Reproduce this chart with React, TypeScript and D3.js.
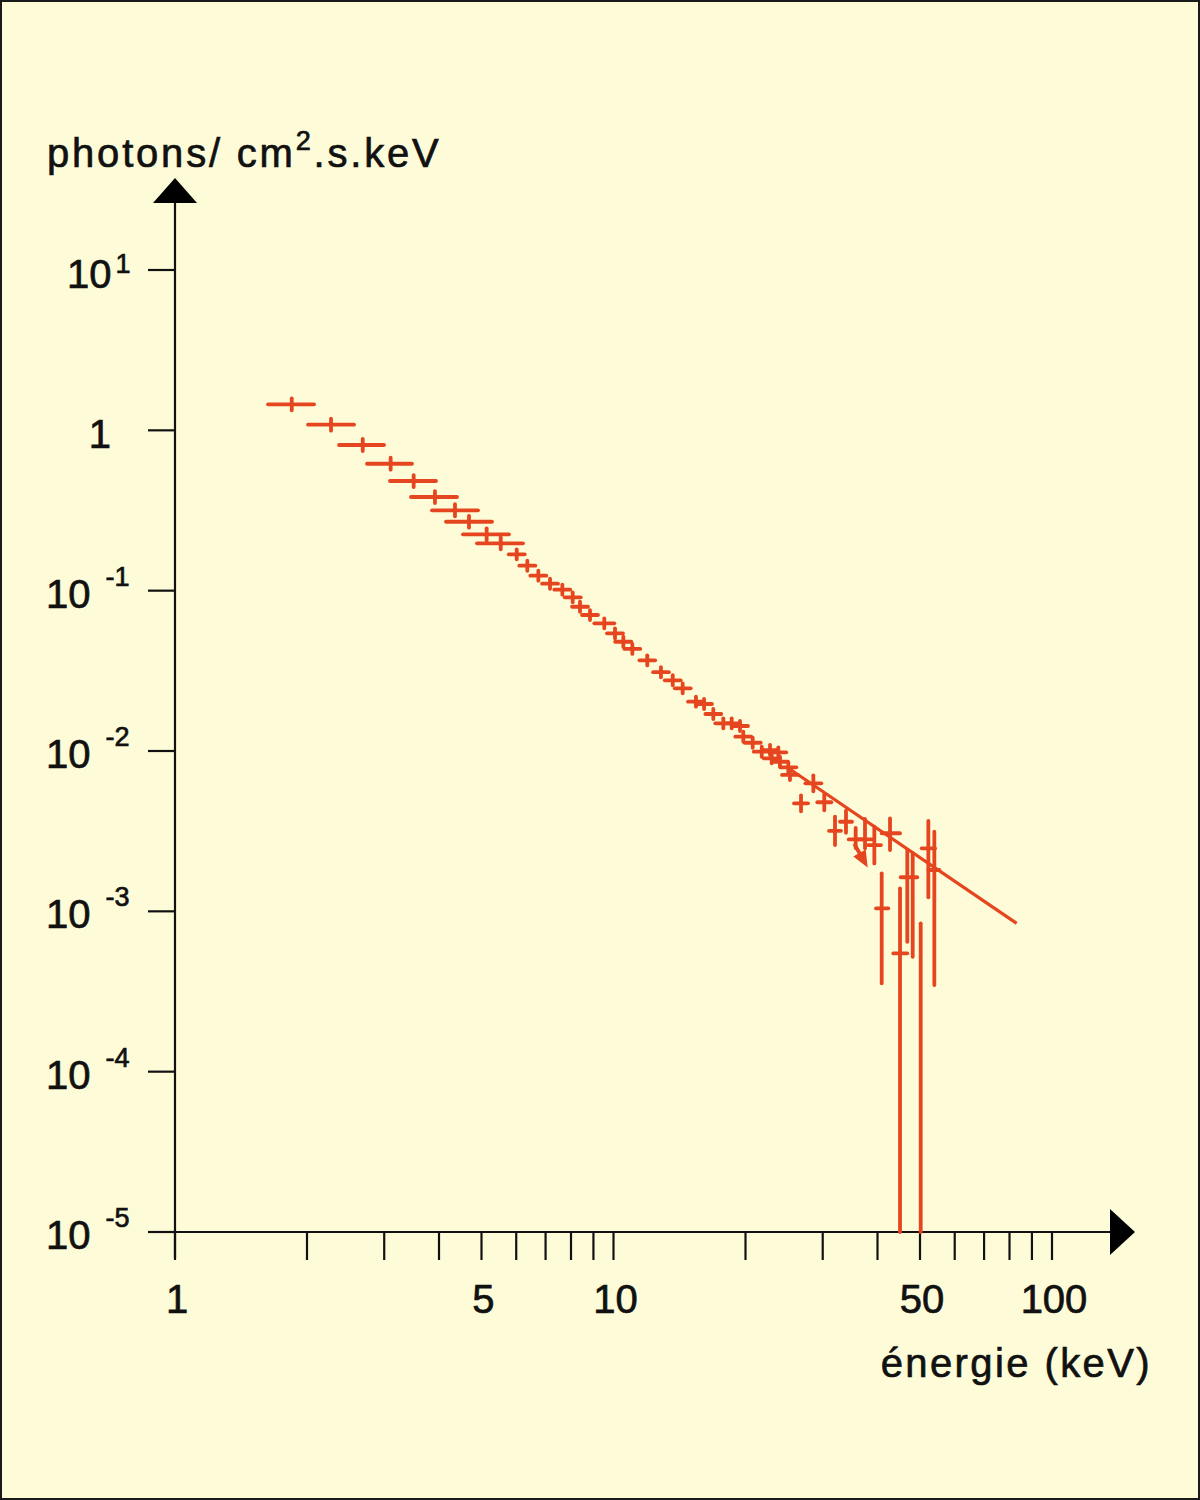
import React from "react";
import * as d3 from "d3";

// ---- data ----
const energy = [1.846, 2.269, 2.68, 3.103, 3.502, 3.916, 4.35, 4.682, 5.137, 5.531,
  6.016, 6.36, 6.739, 7.165, 7.644, 8.072, 8.387, 8.839, 9.528, 10.08,
  10.53, 11.04, 11.94, 12.83, 13.65, 14.38, 15.42, 16.09, 16.89, 17.8,
  18.6, 19.43, 19.77, 20.77, 21.78, 22.75, 23.76, 22.95, 23.97, 25.04,
  25.26, 28.56, 26.77, 30.25, 32.0, 33.9, 35.67, 37.46, 39.34, 42.72,
  40.89, 45.02, 46.77, 48.12, 50.19, 52.24, 53.91];
const energyLo = [1.63, 2.011, 2.366, 2.741, 3.092, 3.452, 3.855, 4.15, 4.537, 4.883,
  5.768, 6.098, 6.461, 6.871, 7.328, 7.741, 8.042, 8.476, 9.042, 9.665,
  10.09, 10.59, 11.46, 12.31, 13.09, 13.8, 14.79, 15.43, 16.2, 17.07,
  17.84, 18.63, 18.96, 19.92, 20.89, 21.82, 22.79, 22.01, 22.99, 24.01,
  24.23, 27.39, 25.8, 29.16, 31.01, 32.85, 34.39, 36.1, 38.06, 40.89,
  39.69, 43.46, 45.18, 48.12, 50.19, 50.45, 52.24];
const energyHi = [2.075, 2.56, 2.997, 3.471, 3.937, 4.397, 4.909, 5.284, 5.775, 6.218,
  6.274, 6.633, 7.027, 7.472, 7.97, 8.418, 8.746, 9.218, 10.04, 10.51,
  10.98, 11.51, 12.45, 13.38, 14.23, 15.0, 16.08, 16.77, 17.61, 18.56,
  19.4, 20.26, 20.61, 21.66, 22.71, 23.72, 24.77, 23.93, 24.99, 26.12,
  26.35, 29.78, 27.77, 31.38, 33.02, 34.99, 37.01, 38.86, 40.74, 45.02,
  42.34, 46.77, 49.29, 48.12, 50.19, 54.11, 55.34];
const flux = [1.453, 1.084, 0.81, 0.619, 0.483, 0.384, 0.317, 0.269, 0.2247, 0.1974,
  0.1686, 0.1431, 0.124, 0.1105, 0.1014, 0.0909, 0.0794, 0.0705, 0.0626, 0.0542,
  0.048, 0.0433, 0.0368, 0.031, 0.0276, 0.0246, 0.0203, 0.01964, 0.01701, 0.01489,
  0.01489, 0.01432, 0.01228, 0.01126, 0.0099, 0.01014, 0.00981, 0.009, 0.00857, 0.00791,
  0.00709, 0.00629, 0.00472, 0.00479, 0.00318, 0.00362, 0.00281, 0.00281, 0.00259, 0.00307,
  0.001044, 0.000547, 0.001631, 0.001568, 0.0004, 0.00247, 0.00181];
const fluxLo = [1.333, 0.995, 0.743, 0.568, 0.443, 0.352, 0.291, 0.247, 0.2061, 0.1811,
  0.1569, 0.1331, 0.1154, 0.1028, 0.0944, 0.0846, 0.0739, 0.0656, 0.0582, 0.0505,
  0.0447, 0.0403, 0.0342, 0.0288, 0.0257, 0.0229, 0.0189, 0.01828, 0.01583, 0.01385,
  0.01385, 0.01333, 0.01142, 0.01048, 0.00921, 0.00944, 0.00913, 0.00838, 0.00798, 0.00737,
  0.00659, 0.00561, 0.00421, 0.00427, 0.00259, 0.00309, 0.00248, 0.00247, 0.00199, 0.00241,
  0.000356, 0.00001, 0.000646, 0.000521, 0.00001, 0.001223, 0.000347];
const fluxHi = [1.584, 1.182, 0.883, 0.675, 0.526, 0.418, 0.346, 0.293, 0.2448, 0.2152,
  0.1811, 0.1538, 0.1331, 0.1188, 0.1089, 0.0977, 0.0853, 0.0757, 0.0672, 0.0582,
  0.0516, 0.0465, 0.0395, 0.0333, 0.0297, 0.0264, 0.0218, 0.0211, 0.01828, 0.01599,
  0.01599, 0.01538, 0.01319, 0.0121, 0.01063, 0.0109, 0.01054, 0.00967, 0.00921, 0.0085,
  0.00761, 0.00705, 0.00529, 0.00537, 0.00389, 0.00424, 0.00331, 0.00377, 0.00337, 0.0038,
  0.001727, 0.001392, 0.00241, 0.00231, 0.000842, 0.00367, 0.00314];

// power-law fit line (energy, flux)
const fitEnergy = [24.74, 83.07];
const fitFlux = [0.008, 0.000842];

// upper-limit arrow (energy, flux) start -> end
const arrowEnergy = [35.54, 37.8];
const arrowFlux = [0.00259, 0.00192];

// axes
const xTickValues = [1, 2, 3, 4, 5, 6, 7, 8, 9, 10, 20, 30, 40, 50, 60, 70, 80, 90, 100];
const xLabelValues = [1, 5, 10, 50, 100];
const yTickValues = [10, 1, 0.1, 0.01, 0.001, 0.0001, 0.00001];
const yTickExponents = [1, 0, -1, -2, -3, -4, -5];
const yTitle = ["photons/ cm", "2", ".s.keV"];
const xTitle = "énergie (keV)";

const RED = "#E5461F";
const BG = "#FEFCD8";
const INK = "#111";
const FONT = "'Liberation Sans', Arial, Helvetica, sans-serif";

export default function App() {
  const x = d3.scaleLog().domain([1, 100]).range([175, 1052]);
  const y = d3.scaleLog().domain([1e-5, 10]).range([1232, 270]);

  const x0 = x(1);
  const y0 = y(1e-5);
  const yTop = 203;
  const xRight = 1110;

  const lineGen = d3
    .line<number>()
    .x((d, i) => x(fitEnergy[i]))
    .y((d, i) => y(fitFlux[i]));

  // upper-limit arrow geometry
  const ax1 = x(arrowEnergy[0]);
  const ay1 = y(arrowFlux[0]);
  const ax2 = x(arrowEnergy[1]);
  const ay2 = y(arrowFlux[1]);
  const ang = Math.atan2(ay2 - ay1, ax2 - ax1);
  const headLen = 14;
  const headW = 6;
  const bx = ax2 - headLen * Math.cos(ang);
  const by = ay2 - headLen * Math.sin(ang);
  const head = [
    [ax2, ay2],
    [bx + headW * Math.sin(ang), by - headW * Math.cos(ang)],
    [bx - headW * Math.sin(ang), by + headW * Math.cos(ang)],
  ];

  const textStroke = { stroke: INK, strokeWidth: 0.7 };

  return (
    <svg
      width={1200}
      height={1500}
      style={{ position: "absolute", left: 0, top: 0, display: "block" }}
      fontFamily={FONT}
    >
      <rect x={1} y={1} width={1198} height={1498} fill={BG} stroke="#1a1a1a" strokeWidth={2} />

      {/* axes */}
      <g stroke={INK} strokeWidth={2.2} fill="none">
        <line x1={x0} x2={x0} y1={yTop} y2={y0 + 26} />
        <line x1={152} x2={xRight} y1={y0} y2={y0} />
        {yTickValues.map((v) => (
          <line key={"yt" + v} x1={x0 - 27} x2={x0} y1={y(v)} y2={y(v)} />
        ))}
        {xTickValues.map((v) => (
          <line key={"xt" + v} x1={x(v)} x2={x(v)} y1={y0} y2={y0 + 28} />
        ))}
      </g>
      <polygon points={`${x0},${178} ${x0 - 22},${yTop} ${x0 + 22},${yTop}`} fill="#000" />
      <polygon points={`${1135},${y0} ${xRight},${y0 - 23} ${xRight},${y0 + 23}`} fill="#000" />

      {/* y tick labels */}
      <g fill={INK} fontSize={40} {...textStroke}>
        {yTickValues.map((v, i) => {
          const e = yTickExponents[i];
          const ty = y(v);
          if (e === 0) {
            return (
              <text key={"yl" + v} x={x0 - 64} y={ty + 18} textAnchor="end">
                1
              </text>
            );
          }
          if (e > 0) {
            return (
              <text key={"yl" + v} x={67} y={ty + 18}>
                10
                <tspan dx={4} dy={-15} fontSize={27}>
                  {String(e)}
                </tspan>
              </text>
            );
          }
          return (
            <text key={"yl" + v} x={46} y={ty + 17}>
              10
              <tspan dx={15} dy={-22} fontSize={27}>
                {"-" + String(-e)}
              </tspan>
            </text>
          );
        })}
      </g>

      {/* x tick labels */}
      <g fill={INK} fontSize={40} textAnchor="middle" {...textStroke}>
        {xLabelValues.map((v) => (
          <text key={"xl" + v} x={x(v) + 2} y={1313}>
            {String(v)}
          </text>
        ))}
      </g>

      {/* axis titles */}
      <text x={47} y={167} fontSize={40} fill={INK} letterSpacing={2.8} {...textStroke}>
        {yTitle[0]}
        <tspan dy={-17} fontSize={27}>
          {yTitle[1]}
        </tspan>
        <tspan dy={17}>{yTitle[2]}</tspan>
      </text>
      <text x={1152} y={1377} fontSize={40} fill={INK} textAnchor="end" letterSpacing={2.4} {...textStroke}>
        {xTitle}
      </text>

      {/* fit line */}
      <path d={lineGen(fitEnergy) || ""} stroke={RED} strokeWidth={3.2} fill="none" />

      {/* data crosses */}
      <g stroke={RED} strokeWidth={3.8} strokeLinecap="round" fill="none">
        {energy.map((e, i) => (
          <g key={"p" + i}>
            {energyHi[i] > energyLo[i] && (
              <line x1={x(energyLo[i])} x2={x(energyHi[i])} y1={y(flux[i])} y2={y(flux[i])} />
            )}
            <line x1={x(e)} x2={x(e)} y1={y(fluxLo[i])} y2={y(fluxHi[i])} />
          </g>
        ))}
        <line x1={ax1} y1={ay1} x2={bx} y2={by} />
      </g>
      <polygon points={head.map((p) => p.join(",")).join(" ")} fill={RED} stroke={RED} strokeWidth={1.5} />
    </svg>
  );
}
